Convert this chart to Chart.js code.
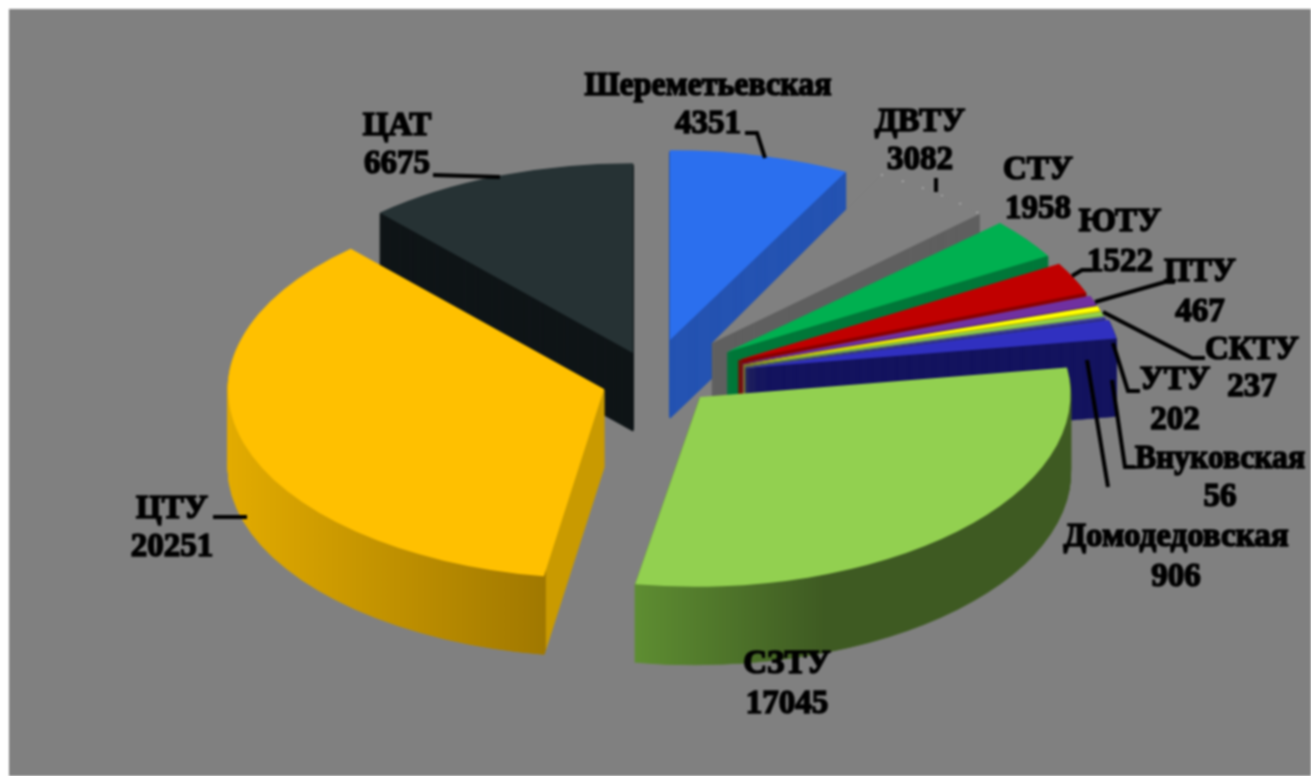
<!DOCTYPE html>
<html>
<head>
<meta charset="utf-8">
<script src="https://cdn.jsdelivr.net/npm/chart.js@4"></script>
<style>
html, body { margin: 0; padding: 0; background: #fff; overflow: hidden; }
#grafico { display: block; margin: 9px 0 0 9px; background: #808080; filter: blur(0.8px); }
</style>
</head>
<body>
<canvas id="grafico" width="1302" height="767"></canvas>
<script>
const categories = ['Шереметьевская', 'ДВТУ', 'СТУ', 'ЮТУ', 'ПТУ', 'СКТУ', 'УТУ', 'Внуковская', 'Домодедовская', 'СЗТУ', 'ЦТУ', 'ЦАТ'];
const values = [4351, 3082, 1958, 1522, 467, 237, 202, 56, 906, 17045, 20251, 6675];

// colours of the top face and of the extruded side
const topColors = ['#2B6FEE', '#808080', '#00B050', '#C00000', '#7030A0', '#FFFF00', '#92D050', '#5050C0', '#3030C0', '#92D050', '#FFC000', '#263234'];
const sideColors = ['#2453B2', '#606060', '#00783A', '#8A0000', '#4F2272', '#AFAF00', '#648F36', '#303080', '#14145F', '#3E5A22', '#C99A00', '#101618'];

// how far each slice is pulled out of the pie (screen px), widened and sheared
const pullX = [10, 52, 67, 78, 82, 83, 84, 85, 85, 40, -56, -27];
const pullY = [-40, -37, -28, -20, -17, -16, -15, -14, -12, 17, 9, -27];
const widen = [1.04, 1, 1.02, 1.02, 1.02, 1.02, 1.02, 1.02, 1.03, 1.015, 1.03, 1.03];
const shear = [0, 0, 0, 0, 0, 0, 0, 0, 0, -0.03, 0, 0];

const squash = 0.52;
const depth = 78;

// label anchors on the page: [x, y of first line, y of second line]
const labelPos = [
    [708, 86, 124], [920, 122, 160], [1038, 170, 209], [1120, 222, 262],
    [1200, 272, 312], [1252, 350, 387], [1175, 380, 420], [1220, 459, 497],
    [1176, 537, 577], [787, 664, 704], [172, 509, 547], [397, 126, 164]
];
const labelWidth = [247, 0, 0, 0, 0, 0, 0, 170, 0, 0, 0, 0];

// leader lines on the page
const leaders = [
    [[745, 133], [757, 133], [765, 158]],
    [[936, 178], [936, 192]],
    null,
    [[1072, 276], [1082, 270], [1092, 270]],
    [[1095, 302], [1165, 282], [1175, 282]],
    [[1103, 312], [1192, 358], [1205, 358]],
    [[1113, 343], [1128, 391], [1140, 391]],
    [[1112, 380], [1125, 467], [1135, 467]],
    [[1087, 360], [1108, 487]],
    null,
    [[213, 517], [247, 517]],
    [[433, 175], [500, 177]]
];

// side gradients, given in page x and mapped back to the slice's own space
function sideFill(ctx, i, el) {
    const local = x => el.x + (x - 9 - pullX[i] - el.x) / widen[i];
    if (i === 9) {
        const g = ctx.createLinearGradient(local(634), 0, local(830), 0);
        g.addColorStop(0, '#5F8F32');
        g.addColorStop(1, sideColors[i]);
        return g;
    }
    if (i === 10) {
        const g = ctx.createLinearGradient(local(230), 0, local(610), 0);
        g.addColorStop(0, '#E2AB00');
        g.addColorStop(0.83, '#A07800');
        g.addColorStop(0.832, sideColors[i]);
        g.addColorStop(1, sideColors[i]);
        return g;
    }
    return sideColors[i];
}

const pie3d = {
    id: 'pie3d',
    beforeDatasetsDraw(chart) {
        const ctx = chart.ctx;
        const arcs = chart.getDatasetMeta(0).data;
        const order = arcs.map((a, i) => i).sort((a, b) => {
            return Math.sin((arcs[a].startAngle + arcs[a].endAngle) / 2) - Math.sin((arcs[b].startAngle + arcs[b].endAngle) / 2);
        });

        order.forEach(i => {
            const el = arcs[i];
            const base = el.options;
            const side = sideFill(ctx, i, el);
            for (let d = depth; d >= 0; d--) {
                ctx.save();
                ctx.translate(pullX[i], pullY[i] + d);
                ctx.translate(el.x, el.y);
                ctx.transform(widen[i], 0, shear[i] * squash, squash, 0, 0);
                ctx.translate(-el.x, -el.y);
                // thin border on the side layers, narrow wedges fade out near the apex without it
                el.options = Object.assign({}, base, d === 0
                    ? { backgroundColor: topColors[i] }
                    : { backgroundColor: side, borderColor: side, borderWidth: 1.2 });
                el.draw(ctx);
                if (d === 0 && i === 1) {
                    // faint white dots along the edge of the grey slice
                    ctx.beginPath();
                    ctx.arc(el.x, el.y, el.outerRadius, el.startAngle, el.endAngle);
                    ctx.setLineDash([2, 22]);
                    ctx.strokeStyle = 'rgba(255,255,255,0.55)';
                    ctx.lineWidth = 2;
                    ctx.stroke();
                }
                ctx.restore();
            }
            el.options = base;
        });
        return false; // slices are painted above
    },
    afterDraw(chart) {
        const ctx = chart.ctx;
        ctx.save();
        ctx.translate(-9, -9);
        ctx.strokeStyle = '#000';
        ctx.lineWidth = 4;
        leaders.forEach(line => {
            if (!line) return;
            ctx.beginPath();
            line.forEach((p, k) => k ? ctx.lineTo(p[0], p[1]) : ctx.moveTo(p[0], p[1]));
            ctx.stroke();
        });
        ctx.font = 'bold 33px "Liberation Serif"';
        ctx.fillStyle = '#000';
        ctx.textAlign = 'center';
        ctx.textBaseline = 'middle';
        ctx.lineWidth = 1.6;
        categories.forEach((name, i) => {
            const p = labelPos[i];
            const w = labelWidth[i] || undefined;
            ctx.fillText(name, p[0], p[1], w);
            ctx.strokeText(name, p[0], p[1], w);
            ctx.fillText(String(values[i]), p[0], p[2]);
            ctx.strokeText(String(values[i]), p[0], p[2]);
        });
        ctx.restore();
    }
};

new Chart(document.getElementById('grafico').getContext('2d'), {
    type: 'pie',
    data: {
        labels: categories,
        datasets: [{
            data: values,
            backgroundColor: topColors,
            borderWidth: 0
        }]
    },
    options: {
        responsive: false,
        animation: false,
        radius: 365,
        layout: { padding: { bottom: 25 } },
        plugins: {
            legend: { display: false },
            tooltip: { enabled: false }
        }
    },
    plugins: [pie3d]
});
</script>
</body>
</html>
